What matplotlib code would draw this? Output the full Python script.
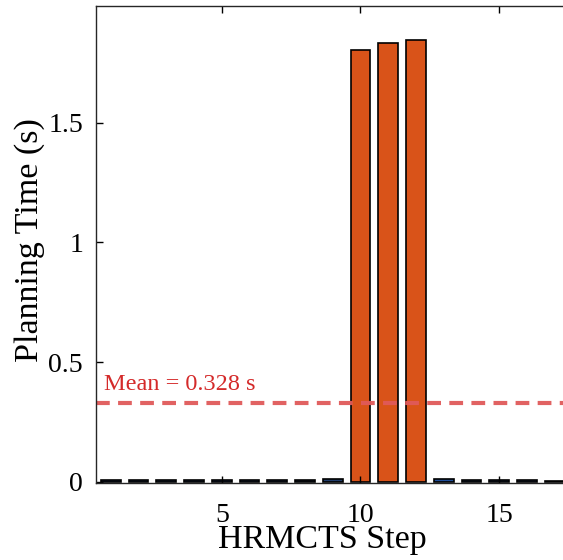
import matplotlib.pyplot as plt
import numpy as np

plt.rcParams['font.family'] = ['Liberation Serif', 'DejaVu Serif']

steps = np.arange(1, 18)
plan_time = [0.006, 0.005, 0.006, 0.005, 0.005, 0.006, 0.005, 0.005, 0.011,
             1.805, 1.833, 1.846,
             0.010, 0.007, 0.005, 0.006, 0.004]
bar_colors = ['#14284b', '#14284b', '#1a2f52', '#14284b', '#1a3563', '#1a2f52',
              '#14284b', '#101c33', '#203c6b',
              '#d95319', '#d95319', '#d95319',
              '#1f4e9a', '#1a2f52', '#14284b', '#1a2f52', '#101c33']
x_ticks = [5, 10, 15]
y_ticks = [0, 0.5, 1, 1.5]
y_ticklabels = ['0', '0.5', '1', '1.5']

mean_time = np.mean(plan_time)

W, H = 563, 560
fig = plt.figure(figsize=(W / 100, H / 100), dpi=100)
# axes box in pixels: left 95.5, right ~570 (runs past the edge), top 6, bottom 483.3
ax_l, ax_r, ax_t, ax_b = 95.5, 570.0, 6.0, 483.3
ax = fig.add_axes([ax_l / W, (H - ax_b) / H, (ax_r - ax_l) / W, (ax_b - ax_t) / H])

ax.bar(steps, plan_time, width=0.72, color=bar_colors, edgecolor='black', linewidth=1.2)
ax.axhline(mean_time, color='#e05a5a', linestyle=(0, (3.3, 2.0)), linewidth=3, alpha=0.95)
ax.text(0.75, mean_time + 0.035, 'Mean = %.3f s' % mean_time, color='#d42a2a',
        fontsize=17.5, ha='left', va='bottom')

ax.set_xlim(0.45, 17.55)
ax.set_ylim(-0.007, 1.988)
ax.set_xticks(x_ticks)
ax.set_yticks(y_ticks)
ax.set_yticklabels(y_ticklabels)
ax.tick_params(direction='in', length=5, width=1, labelsize=20, top=True, right=True)
ax.tick_params(axis='x', pad=14)
ax.tick_params(axis='y', pad=9)
for s in ax.spines.values():
    s.set_linewidth(1.0)
    s.set_color('#262626')

ax.set_xlabel('HRMCTS Step', fontsize=24.5, va='baseline')
ax.set_ylabel('Planning Time (s)', fontsize=24.5)
ax.xaxis.set_label_coords((322.5 - ax_l) / (ax_r - ax_l), (ax_b - 548) / (ax_b - ax_t))
ax.yaxis.set_label_coords((45 - ax_l) / (ax_r - ax_l), 0.51)

fig.savefig('out.png', dpi=100)
